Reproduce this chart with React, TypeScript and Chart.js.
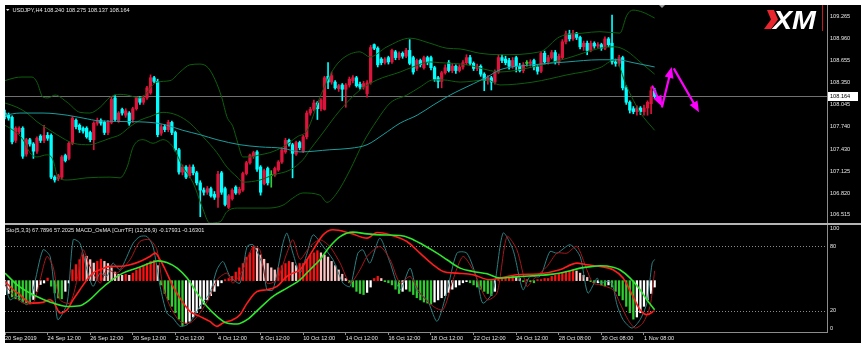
import React, { useEffect, useRef } from "react";
import { Chart, registerables } from "chart.js";

Chart.register(...registerables);

// ---------------- data ----------------
const symbolTitle = "USDJPY,H4";
const oscTitle = "Sto(5,3,3) 67.7896 57.2025 MACD_OsMA [CurrTF] (12,26,9) -0.17931 -0.16301";

const opens = [
  107.93,107.90,107.87,107.55,107.67,107.72,107.36,107.56,107.50,107.40,
  107.61,107.55,107.62,107.62,107.04,107.02,107.04,107.34,107.30,107.51,
  107.83,107.76,107.72,107.72,107.66,107.56,107.79,107.83,107.80,107.66,
  107.80,108.14,107.82,107.98,107.90,107.93,107.84,107.99,108.14,108.08,
  108.14,108.21,108.42,108.37,107.65,107.74,107.70,107.80,107.66,107.42,
  107.11,107.18,107.06,107.18,107.10,106.96,106.86,106.83,106.88,106.80,
  106.76,107.10,106.88,106.62,106.74,106.90,106.82,106.86,107.09,107.24,
  107.33,107.39,107.18,106.95,107.16,107.06,107.07,107.14,107.25,107.39,
  107.55,107.49,107.36,107.52,107.40,107.60,107.93,107.98,108.07,107.99,
  107.98,108.44,108.36,108.36,108.27,108.32,108.26,108.32,108.38,108.42,
  108.33,108.29,108.20,108.35,108.88,108.83,108.68,108.63,108.70,108.64,
  108.78,108.70,108.76,108.72,108.80,108.70,108.55,108.66,108.56,108.70,
  108.70,108.56,108.42,108.37,108.49,108.63,108.52,108.58,108.52,108.57,
  108.63,108.70,108.62,108.55,108.58,108.47,108.38,108.42,108.36,108.50,
  108.70,108.68,108.66,108.58,108.70,108.58,108.52,108.62,108.62,108.66,
  108.57,108.51,108.76,108.64,108.70,108.77,108.64,108.70,108.92,109.03,
  108.96,109.04,108.98,108.85,108.90,108.80,108.90,108.86,108.88,108.83,
  108.96,108.90,108.64,108.62,108.70,108.28,108.08,107.99,107.95,108.00,
  107.95,108.00,108.06,108.24,
];
const highs = [
  107.97,107.93,107.89,107.74,107.74,107.74,107.58,107.58,107.52,107.60,
  107.63,107.76,107.66,107.64,107.06,107.08,107.34,107.36,107.53,107.88,
  107.85,107.78,107.74,107.74,107.68,107.81,107.86,107.85,107.82,107.83,
  108.15,108.18,107.95,108.00,107.99,107.95,108.01,108.16,108.16,108.17,
  108.30,108.46,108.44,108.40,107.77,107.77,107.83,107.82,107.68,107.44,
  107.21,107.20,107.21,107.21,107.12,106.99,106.89,106.91,106.90,106.84,
  107.12,107.12,106.90,106.80,106.88,106.92,106.90,107.11,107.26,107.36,
  107.40,107.41,107.20,107.15,107.18,107.13,107.18,107.27,107.44,107.58,
  107.57,107.51,107.54,107.54,107.62,107.96,108.01,108.11,108.09,108.13,
  108.44,108.63,108.50,108.38,108.33,108.34,108.34,108.43,108.45,108.44,
  108.36,108.37,108.38,108.87,108.89,108.85,108.70,108.70,108.72,108.82,
  108.80,108.78,108.78,108.83,108.95,108.72,108.68,108.68,108.72,108.72,
  108.72,108.58,108.44,108.51,108.60,108.66,108.62,108.60,108.60,108.66,
  108.74,108.73,108.64,108.61,108.60,108.49,108.45,108.44,108.53,108.74,
  108.74,108.72,108.69,108.70,108.72,108.62,108.63,108.66,108.67,108.68,
  108.60,108.78,108.79,108.73,108.80,108.80,108.75,108.95,109.07,109.08,
  109.08,109.05,109.00,108.93,108.93,108.93,108.92,108.91,108.90,108.99,
  108.98,109.29,108.68,108.73,108.72,108.31,108.10,108.02,108.03,108.02,
  108.04,108.10,108.29,108.275,
];
const lows = [
  107.85,107.83,107.50,107.52,107.64,107.30,107.33,107.47,107.30,107.37,
  107.52,107.52,107.55,107.02,106.97,106.99,107.01,107.25,107.28,107.49,
  107.71,107.66,107.65,107.58,107.53,107.42,107.76,107.76,107.63,107.63,
  107.78,107.82,107.80,107.90,107.87,107.76,107.80,107.97,108.05,108.05,
  108.12,108.19,108.35,107.60,107.62,107.67,107.67,107.63,107.40,107.08,
  107.07,107.02,107.03,107.07,106.93,106.49,106.79,106.80,106.76,106.73,
  106.62,106.80,106.64,106.60,106.72,106.80,106.80,106.84,107.07,107.22,
  107.30,107.12,106.79,106.93,106.93,106.90,107.05,107.12,107.23,107.37,
  107.47,107.03,107.34,107.42,107.38,107.57,107.90,107.96,107.84,107.96,
  107.97,108.27,108.33,108.26,108.23,108.10,108.01,108.29,108.35,108.29,
  108.26,108.26,108.15,108.33,108.81,108.57,108.60,108.61,108.61,108.62,
  108.67,108.67,108.69,108.70,108.60,108.47,108.52,108.57,108.54,108.60,
  108.53,108.37,108.28,108.28,108.47,108.50,108.49,108.48,108.50,108.54,
  108.60,108.59,108.52,108.52,108.44,108.24,108.33,108.25,108.33,108.48,
  108.63,108.60,108.54,108.55,108.50,108.50,108.49,108.58,108.58,108.53,
  108.47,108.49,108.61,108.61,108.68,108.61,108.60,108.68,108.89,108.93,
  108.94,108.95,108.82,108.80,108.74,108.78,108.83,108.83,108.80,108.81,
  108.85,108.61,108.58,108.58,108.25,108.05,107.93,107.92,107.90,107.91,
  107.90,107.90,107.92,108.137,
];
const closes = [
  107.88,107.86,107.53,107.72,107.72,107.33,107.56,107.50,107.40,107.58,
  107.55,107.62,107.58,107.04,107.00,107.06,107.32,107.27,107.51,107.86,
  107.74,107.70,107.68,107.60,107.56,107.79,107.83,107.79,107.66,107.80,
  108.12,107.84,107.93,107.93,107.96,107.79,107.99,108.14,108.08,108.14,
  108.28,108.42,108.37,107.63,107.74,107.70,107.80,107.66,107.42,107.11,
  107.18,107.04,107.18,107.10,106.96,106.86,106.83,106.88,106.78,106.76,
  107.08,106.83,106.66,106.78,106.86,106.82,106.87,107.09,107.24,107.34,
  107.38,107.15,106.83,107.13,106.96,107.06,107.16,107.25,107.42,107.55,
  107.50,107.37,107.52,107.45,107.60,107.93,107.98,108.07,107.99,108.11,
  108.42,108.36,108.45,108.28,108.31,108.26,108.32,108.40,108.42,108.31,
  108.29,108.34,108.35,108.84,108.83,108.60,108.63,108.68,108.64,108.80,
  108.70,108.76,108.72,108.80,108.62,108.50,108.66,108.60,108.70,108.63,
  108.56,108.40,108.37,108.49,108.56,108.52,108.58,108.52,108.57,108.63,
  108.70,108.62,108.55,108.58,108.47,108.38,108.42,108.36,108.50,108.70,
  108.66,108.63,108.58,108.66,108.58,108.52,108.60,108.62,108.64,108.57,
  108.51,108.76,108.64,108.70,108.77,108.64,108.72,108.92,109.03,108.96,
  109.04,108.98,108.85,108.90,108.80,108.90,108.86,108.88,108.83,108.96,
  108.88,108.64,108.62,108.70,108.28,108.08,107.97,107.95,108.00,107.95,
  108.00,108.08,108.24,108.164,
];

const priceTicks = [109.265, 108.96, 108.655, 108.35, 108.045, 107.74, 107.43, 107.125, 106.82, 106.515];

// [bar index, price]
const bbUpper: [number, number][] = [
  [0,108.38],[2.8,108.42],[4.8,108.43],[7.6,108.43],[9,108.36],[10.7,108.15],[12.1,108.14],[14.1,108.18],
  [17.5,108.08],[21.1,107.94],[23.9,107.93],[26.8,108.01],[29.6,108.15],[32.4,108.19],[34.4,108.18],[38,108.14],
  [42.8,108.36],[46.5,108.38],[49.3,108.50],[52.1,108.60],[54.9,108.61],[57.2,108.56],[59.2,108.39],[61.1,108.14],
  [62.5,107.88],[64.2,107.74],[65.6,107.51],[67,107.32],[69,107.32],[71.8,107.35],[74.6,107.38],[78.3,107.46],
  [82.3,107.60],[85.1,107.69],[88.7,108.15],[92.4,108.53],[95.2,108.69],[100,108.78],[102.8,108.71],[107.6,108.85],
  [114.1,108.97],[119.7,108.90],[124.5,108.83],[128.2,108.82],[133.8,108.76],[139.4,108.74],[150.7,108.78],
  [156.3,108.99],[162.8,109.04],[167.6,109.06],[173.2,109.04],[175.2,109.29],[176.9,109.36],[179.7,109.33],[183,109.25],
];
const bbMiddle: [number, number][] = [
  [0,108.07],[3.4,108.01],[6.2,107.93],[9,107.81],[12.7,107.69],[16.3,107.58],[19.2,107.51],[23.9,107.49],
  [26.8,107.53],[29.6,107.58],[32.4,107.63],[35.2,107.74],[38,107.83],[40.8,107.88],[44.5,107.94],[48.5,107.90],
  [52.1,107.79],[55.8,107.60],[59.7,107.38],[62.5,107.18],[65.4,107.04],[67,106.97],[71.8,107.00],[75.5,107.07],
  [80.3,107.14],[83.9,107.28],[85.9,107.42],[88.7,107.60],[94.4,107.97],[100,108.25],[104.8,108.39],[111.3,108.50],
  [114.9,108.57],[119.7,108.64],[122.5,108.63],[130.1,108.60],[135.8,108.53],[139.4,108.50],[148.7,108.57],
  [158.3,108.69],[167.6,108.83],[171.8,108.85],[175.2,108.79],[178.9,108.64],[183,108.47],
];
const bbLower: [number, number][] = [
  [0,107.76],[2.3,107.69],[5.1,107.56],[7,107.38],[9,107.32],[11.8,107.35],[13.5,107.28],[14.9,107.04],
  [17.5,107.00],[23.1,107.03],[29.6,107.04],[32.4,107.03],[34.4,107.18],[36.1,107.46],[38.9,107.56],[41.7,107.51],
  [44.5,107.56],[47.3,107.46],[50.1,107.18],[53,106.96],[55.5,106.63],[57.7,106.40],[60.6,106.42],[62.5,106.56],
  [65.4,106.61],[73.8,106.61],[78.3,106.65],[81.1,106.75],[83.9,106.82],[88.7,106.79],[90.7,106.69],[93.5,106.82],
  [97.2,107.14],[100.8,107.51],[104.8,107.83],[108.5,108.07],[113.2,108.18],[116.9,108.29],[120.6,108.39],
  [123.4,108.39],[128.2,108.36],[135.8,108.39],[139.4,108.32],[148.7,108.36],[158.3,108.46],[167.6,108.56],
  [171.8,108.67],[175.2,108.29],[178.9,107.94],[183,107.69],
];
const maSlow: [number, number][] = [
  [0,107.90],[4.2,107.93],[10.7,107.93],[17.5,107.90],[22,107.86],[26.8,107.82],[36.1,107.81],[42.8,107.79],
  [45.6,107.76],[50.1,107.69],[54.9,107.63],[59.7,107.56],[66.2,107.49],[71.8,107.46],[78.3,107.44],[83.1,107.39],
  [91.5,107.42],[97.2,107.44],[102,107.49],[106.5,107.63],[111.3,107.79],[116.1,107.90],[120.6,108.04],
  [125.4,108.18],[128.2,108.25],[135.8,108.43],[139.4,108.53],[148.7,108.60],[158.3,108.64],[167.6,108.67],
  [172.4,108.67],[176.9,108.63],[183,108.57],
];

const osmaHist = [
  -0.065,-0.060,-0.076,-0.085,-0.091,-0.100,-0.104,-0.107,-0.088,-0.050,
  -0.018,-0.011,0.012,-0.026,-0.058,-0.081,-0.085,-0.050,-0.011,0.051,
  0.075,0.098,0.121,0.114,0.098,0.082,0.090,0.100,0.090,0.080,
  0.060,0.040,0.030,0.025,0.030,0.025,0.035,0.050,0.060,0.070,
  0.080,0.090,0.095,0.070,-0.020,-0.060,-0.090,-0.120,-0.150,-0.180,
  -0.210,-0.200,-0.190,-0.170,-0.150,-0.130,-0.110,-0.090,-0.070,-0.050,
  -0.025,-0.010,0.005,0.010,0.020,0.040,0.060,0.080,0.110,0.130,
  0.160,0.150,0.120,0.100,0.080,0.060,0.050,0.060,0.070,0.080,
  0.090,0.085,0.070,0.080,0.080,0.100,0.120,0.130,0.140,0.130,
  0.120,0.110,0.090,0.070,0.050,0.030,0.010,-0.010,-0.030,-0.050,
  -0.060,-0.065,-0.055,-0.030,0.010,0.020,0.010,-0.005,-0.010,-0.020,
  -0.040,-0.060,-0.050,-0.040,-0.050,-0.065,-0.080,-0.090,-0.100,-0.105,
  -0.110,-0.100,-0.090,-0.080,-0.070,-0.055,-0.040,-0.030,-0.020,-0.010,
  -0.005,-0.010,-0.020,-0.030,-0.040,-0.050,-0.060,-0.070,-0.050,0.010,
  0.010,0.010,0.015,0.020,0.015,0.010,-0.005,0.005,-0.005,-0.010,
  0.005,0.005,0.010,0.010,0.020,0.025,0.030,0.035,0.040,0.045,
  0.050,0.045,0.035,0.025,0.015,-0.005,-0.010,-0.010,-0.020,-0.025,
  -0.020,-0.030,-0.050,-0.070,-0.090,-0.120,-0.150,-0.180,-0.170,-0.150,
  -0.120,-0.090,-0.060,-0.030,
];

// [bar index, 0..100 oscillator value]
const stochMain: [number, number][] = [
  [0,47.3],[1.4,30.2],[3.4,33.3],[6.2,25.5],[7.9,39.5],[10.7,76.8],[12.7,70.6],[14.1,31.7],[14.9,11.5],
  [17.5,27.0],[19.2,86.2],[21.1,83.0],[23.1,58.2],[24.8,42.6],[26.8,55.0],[28.7,51.9],[30.4,64.4],[32.4,58.2],
  [36.1,83.0],[38,89.2],[40,89.2],[41.7,79.9],[43.7,42.6],[45.6,17.7],[47.3,13.1],[49.3,5.3],[51.3,6.8],
  [53,13.1],[54.9,24.0],[57.7,36.4],[59.7,58.2],[61.4,65.9],[63.4,51.9],[66.2,45.7],[68.2,79.9],[69.9,81.5],
  [72.7,61.3],[73.8,39.5],[75.5,39.5],[78.3,83.0],[79.4,92.4],[81.1,73.7],[83.1,55.0],[85.1,73.7],[86.8,90.8],
  [89.6,79.9],[92.4,67.5],[95.2,45.7],[97.2,42.6],[99.4,73.7],[100.8,76.8],[102.8,64.4],[105.6,87.7],[108.5,64.4],
  [111.3,39.5],[114.1,59.7],[116.1,38.0],[118.9,30.2],[121.7,10.0],[124.5,38.0],[127.3,73.7],[130.1,73.7],
  [133,48.8],[134.6,27.0],[137.5,38.0],[140.3,92.4],[143.1,76.8],[145.9,39.5],[147.9,51.9],[150.7,51.9],
  [153.5,75.2],[155.5,73.7],[159.2,81.5],[162,70.6],[164.2,36.4],[166.8,50.4],[167.6,45.7],[169.6,47.3],
  [171,45.7],[172.4,25.5],[174.1,11.5],[176.6,3.7],[178.9,11.5],[180.8,27.0],[182.3,64.4],[183,67.8],
];
const stochSignal: [number, number][] = [
  [0,44.1],[2.3,34.8],[5.1,27.0],[7.9,27.0],[9.9,48.8],[11.8,70.6],[13.5,61.3],[15.5,30.2],[18.3,27.0],
  [20.3,48.8],[22,76.8],[23.9,61.3],[26.8,45.7],[28.7,58.2],[31.5,55.0],[35.2,67.5],[38,84.6],[40.8,86.2],
  [42.8,76.8],[44.5,42.6],[46.5,24.0],[49.3,9.9],[52.1,8.4],[54.9,17.7],[57.7,33.3],[59.7,48.8],[62.5,55.0],
  [64.2,45.7],[67,58.2],[69.9,80.0],[71.8,76.8],[73.8,45.7],[76.6,48.8],[79.4,73.7],[81.1,86.2],[83.1,68.0],
  [85.9,79.9],[88.7,86.2],[91.5,79.9],[94.4,64.4],[97.2,45.7],[100,58.2],[102,70.6],[105.6,79.9],[108.5,67.5],
  [111.3,45.7],[114.1,51.9],[116.9,36.4],[120.6,24.0],[123.4,20.8],[126.2,48.8],[129,70.6],[131.8,58.2],
  [135.8,30.2],[138.6,36.4],[141.4,89.2],[144.2,76.8],[147,42.6],[148.7,48.8],[152.7,61.3],[155.5,73.7],
  [158.3,73.7],[161.1,80.0],[163.9,58.2],[165.6,45.7],[167.6,44.1],[171.3,39.5],[173.2,27.0],[175.5,11.5],
  [177.5,3.7],[179.7,8.4],[181.7,24.0],[183,57.2],
];
const macdRed: [number, number][] = [
  [0,47.3],[2.3,39.5],[4.2,34.8],[6.2,28.6],[7.9,27.0],[10.7,27.7],[12.7,30.2],[14.1,25.5],[15.5,17.7],
  [17.5,20.8],[19.2,30.2],[21.1,39.5],[23.1,48.8],[24.8,55.0],[26.8,58.2],[29.6,61.3],[32.4,61.3],[35.2,62.8],
  [38,65.9],[40.8,70.6],[42.3,73.7],[43.7,67.5],[45.6,55.0],[47.3,42.6],[49.9,28.6],[52.1,19.3],[54.9,14.6],
  [57.7,9.9],[59.7,5.3],[61.4,8.4],[64.2,11.5],[66.2,16.2],[68.2,27.0],[71,37.9],[73.8,39.5],[76.6,42.6],
  [79.4,52.0],[81.1,55.0],[83.1,58.2],[86.8,76.8],[89.6,90.8],[92.4,95.5],[97.2,92.4],[102,87.7],[104.8,93.0],
  [108.5,90.8],[113.2,84.6],[116.9,73.7],[120.6,62.8],[123.4,56.6],[127.3,55.0],[131.8,53.5],[136.6,48.8],
  [139.4,50.4],[144.2,53.5],[150.7,54.4],[156.3,58.2],[161.1,64.4],[163.9,62.8],[167.6,61.3],[171.3,58.2],
  [174.1,50.4],[176.9,33.3],[178.9,20.8],[180.8,16.2],[183,20.0],
];
const macdGreen: [number, number][] = [
  [0,55.0],[3.4,44.1],[7,36.4],[9.9,31.7],[13.5,27.0],[17.5,23.9],[21.1,24.6],[23.9,30.2],[26.8,39.5],
  [29.6,47.3],[33.2,55.0],[37.2,59.7],[40.8,64.4],[43.1,66.5],[45.6,65.0],[48.5,59.7],[51.3,50.4],[54.1,36.4],
  [56.9,23.9],[59.7,14.6],[62.5,8.4],[65.4,7.5],[68.2,11.5],[71.8,22.4],[75.5,33.3],[79.4,41.0],[83.1,48.8],
  [85.9,58.2],[88.7,67.5],[91.5,79.9],[94.4,89.2],[98,93.3],[102,91.7],[105.6,90.8],[111.3,90.2],[114.1,87.7],
  [117.7,81.5],[121.7,73.7],[124.5,67.5],[128.2,59.7],[131.8,56.6],[135.8,54.4],[139.4,50.4],[143.1,51.3],
  [148.7,52.6],[154.4,54.1],[158.3,56.6],[162,59.7],[165.6,61.3],[167.6,61.9],[171.3,60.6],[173.2,58.2],
  [176.1,50.4],[178.9,39.5],[180.8,30.2],[183,20.8],
];

const oscTicks = [100, 80, 20, 0];
const oscLevels = [80, 20];

const dateBars = [0, 12, 24, 36, 48, 60, 72, 84, 96, 108, 120, 132, 144, 156, 168, 180];
const dateLabels = [
  "20 Sep 2019", "24 Sep 12:00", "26 Sep 12:00", "30 Sep 12:00", "2 Oct 12:00", "4 Oct 12:00",
  "8 Oct 12:00", "10 Oct 12:00", "14 Oct 12:00", "16 Oct 12:00", "18 Oct 12:00", "22 Oct 12:00",
  "24 Oct 12:00", "28 Oct 08:00", "30 Oct 08:00", "1 Nov 08:00",
];

// hand-drawn forecast arrows: [bar, price] start -> end
const forecastArrows: [number, number][][] = [
  [[182.4, 108.30], [185.1, 108.02]],
  [[185.1, 108.02], [187.8, 108.57]],
  [[188.5, 108.54], [195.5, 107.94]],
];

// ---------------- view ----------------
const X_MIN = 0;
const X_MAX = 231.55;
const P_MIN = 106.4028;
const P_MAX = 109.4306;
const H_MIN = -0.24;
const H_MAX = 0.26;

const FONT = '"Liberation Sans", Arial, sans-serif';
const TXT = "#e4e4e4";
const AXIS = "#8c8c8c";
const BULL = "#dc143c";
const BEAR = "#00ffff";
const DOJI = "#32cd32";

const candleColor = (i: number) =>
  closes[i] > opens[i] ? BULL : closes[i] < opens[i] ? BEAR : DOJI;

const histColor = (i: number) => {
  const v = osmaHist[i];
  const prev = i > 0 ? osmaHist[i - 1] : v;
  if (v >= 0) return v >= prev ? "#ff1010" : "#ffc4c4";
  return v < prev ? "#2fcf2f" : "#ffffff";
};

const pts = (a: [number, number][]) => a.map(([x, y]) => ({ x, y }));

const mainDecor = {
  id: "mainDecor",
  beforeDatasetsDraw(chart: any) {
    const { ctx, chartArea: a, scales } = chart;
    const y = Math.round(scales.y.getPixelForValue(closes[closes.length - 1])) + 0.5;
    ctx.save();
    ctx.strokeStyle = "#707070";
    ctx.lineWidth = 1;
    ctx.beginPath();
    ctx.moveTo(a.left, y);
    ctx.lineTo(a.right, y);
    ctx.stroke();
    ctx.restore();
  },
  afterDraw(chart: any) {
    const { ctx, chartArea: a, scales } = chart;
    const sx = scales.x;
    const sy = scales.y;
    ctx.save();
    // forecast arrows
    ctx.fillStyle = "#ff00ff";
    ctx.strokeStyle = "#ff00ff";
    ctx.lineCap = "round";
    for (const [[x1, p1], [x2, p2]] of forecastArrows) {
      const X1 = sx.getPixelForValue(x1), Y1 = sy.getPixelForValue(p1);
      const X2 = sx.getPixelForValue(x2), Y2 = sy.getPixelForValue(p2);
      const dx = X2 - X1, dy = Y2 - Y1;
      const len = Math.hypot(dx, dy);
      const ux = dx / len, uy = dy / len;
      const head = 11, hw = 4.5;
      const bx = X2 - ux * head, by = Y2 - uy * head;
      ctx.lineWidth = 2.2;
      ctx.beginPath();
      ctx.moveTo(X1, Y1);
      ctx.lineTo(bx, by);
      ctx.stroke();
      ctx.beginPath();
      ctx.moveTo(X2, Y2);
      ctx.lineTo(bx - uy * hw, by + ux * hw);
      ctx.lineTo(bx + uy * hw, by - ux * hw);
      ctx.closePath();
      ctx.fill();
    }
    // current price box
    const last = closes[closes.length - 1];
    const py = Math.round(sy.getPixelForValue(last));
    ctx.fillStyle = "#ffffff";
    ctx.fillRect(a.right + 1, py - 4, 30, 9);
    ctx.fillStyle = "#000000";
    ctx.font = `5.6px ${FONT}`;
    ctx.textAlign = "left";
    ctx.textBaseline = "middle";
    ctx.fillText(last.toFixed(3), a.right + 3, py + 0.5);
    // header
    const n = closes.length - 1;
    const head = `${symbolTitle} ${opens[n].toFixed(3)} ${highs[n].toFixed(3)} ${lows[n].toFixed(3)} ${closes[n].toFixed(3)}`;
    ctx.fillStyle = TXT;
    ctx.beginPath();
    ctx.moveTo(a.left + 1, a.top + 4);
    ctx.lineTo(a.left + 4.5, a.top + 4);
    ctx.lineTo(a.left + 2.75, a.top + 6);
    ctx.closePath();
    ctx.fill();
    ctx.fillText(head, a.left + 7.5, a.top + 5.2);
    // chart shift marker
    ctx.fillStyle = "#9a9a9a";
    ctx.beginPath();
    ctx.moveTo(a.left + 654, a.top);
    ctx.lineTo(a.left + 660, a.top);
    ctx.lineTo(a.left + 657, a.top + 3);
    ctx.closePath();
    ctx.fill();
    // XM logo
    const lx = a.right - 60, ly = a.top + 5;
    ctx.fillStyle = "#e8262d";
    ctx.beginPath();
    ctx.moveTo(lx, ly);
    ctx.lineTo(lx + 7, ly);
    ctx.lineTo(lx + 11, ly + 9.5);
    ctx.lineTo(lx + 4, ly + 19);
    ctx.lineTo(lx - 3, ly + 19);
    ctx.lineTo(lx + 4, ly + 9.5);
    ctx.closePath();
    ctx.fill();
    ctx.fillStyle = "#ffffff";
    ctx.font = `italic bold 26px ${FONT}`;
    ctx.textBaseline = "alphabetic";
    ctx.save();
    ctx.translate(lx + 6, ly + 19);
    ctx.scale(1.1, 1);
    ctx.fillText("XM", 0, 0);
    ctx.restore();
    ctx.fillStyle = "#c41a1a";
    ctx.fillRect(a.right - 5, a.top, 1, 26);
    ctx.restore();
  },
};

const oscDecor = {
  id: "oscDecor",
  beforeDatasetsDraw(chart: any) {
    const { ctx, chartArea: a, scales } = chart;
    ctx.save();
    ctx.strokeStyle = "#8a8a8a";
    ctx.lineWidth = 1;
    ctx.setLineDash([1, 2]);
    for (const v of oscLevels) {
      const y = Math.round(scales.y.getPixelForValue(v)) + 0.5;
      ctx.beginPath();
      ctx.moveTo(a.left, y);
      ctx.lineTo(a.right, y);
      ctx.stroke();
    }
    ctx.restore();
  },
  afterDraw(chart: any) {
    const { ctx, chartArea: a, scales } = chart;
    ctx.save();
    ctx.fillStyle = TXT;
    ctx.font = `5.6px ${FONT}`;
    ctx.textAlign = "left";
    ctx.textBaseline = "middle";
    for (const v of oscTicks) {
      let y = scales.y.getPixelForValue(v);
      y = Math.min(Math.max(y, a.top + 3.5), a.bottom - 3.5);
      ctx.fillText(String(v), a.right + 3, y);
    }
    ctx.fillText(oscTitle, a.left + 1, a.top + 5);
    ctx.restore();
  },
};

function buildMain(canvas: HTMLCanvasElement) {
  return new Chart(canvas, {
    type: "bar",
    data: {
      datasets: [
        { type: "line", data: pts(maSlow), borderColor: "#1b9d9d", borderWidth: 1, pointRadius: 0, cubicInterpolationMode: "monotone", order: 0 } as any,
        { type: "line", data: pts(bbUpper), borderColor: "#0d5e0d", borderWidth: 1, pointRadius: 0, cubicInterpolationMode: "monotone", order: 0 } as any,
        { type: "line", data: pts(bbMiddle), borderColor: "#0d5e0d", borderWidth: 1, pointRadius: 0, cubicInterpolationMode: "monotone", order: 0 } as any,
        { type: "line", data: pts(bbLower), borderColor: "#0d5e0d", borderWidth: 1, pointRadius: 0, cubicInterpolationMode: "monotone", order: 0 } as any,
        {
          type: "bar",
          data: opens.map((o, i) => ({ x: i, y: [o, closes[i]] })),
          backgroundColor: (c: any) => candleColor(c.dataIndex),
          barThickness: 2.6,
          minBarLength: 1,
          grouped: false,
          order: 1,
        } as any,
        {
          type: "bar",
          data: lows.map((l, i) => ({ x: i, y: [l, highs[i]] })),
          backgroundColor: (c: any) => candleColor(c.dataIndex),
          barThickness: 1,
          grouped: false,
          order: 2,
        } as any,
      ],
    },
    options: {
      animation: false,
      responsive: false,
      maintainAspectRatio: false,
      events: [],
      layout: { padding: 0 },
      plugins: { legend: { display: false }, tooltip: { enabled: false } },
      scales: {
        x: { type: "linear", min: X_MIN, max: X_MAX, offset: false, display: false, grid: { offset: false } },
        y: {
          position: "right",
          min: P_MIN,
          max: P_MAX,
          afterBuildTicks: (s: any) => { s.ticks = priceTicks.map((v) => ({ value: v })); },
          afterFit: (s: any) => { s.width = 34; s.paddingTop = 0; s.paddingBottom = 0; },
          grid: { display: false, drawTicks: false },
          border: { display: true, color: AXIS },
          ticks: {
            autoSkip: false,
            color: TXT,
            padding: 3,
            font: { family: FONT, size: 5.6 },
            callback: (v: any) => Number(v).toFixed(3),
          },
        },
      },
    } as any,
    plugins: [mainDecor],
  });
}

function buildOsc(canvas: HTMLCanvasElement) {
  return new Chart(canvas, {
    type: "bar",
    data: {
      datasets: [
        { type: "line", data: pts(macdGreen), yAxisID: "y", borderColor: "#2ee62e", borderWidth: 1.6, pointRadius: 0, cubicInterpolationMode: "monotone", order: 0 } as any,
        { type: "line", data: pts(macdRed), yAxisID: "y", borderColor: "#ff1c1c", borderWidth: 1.6, pointRadius: 0, cubicInterpolationMode: "monotone", order: 1 } as any,
        { type: "line", data: pts(stochSignal), yAxisID: "y", borderColor: "#a8161b", borderWidth: 1, pointRadius: 0, tension: 0.25, order: 2 } as any,
        { type: "line", data: pts(stochMain), yAxisID: "y", borderColor: "#2c7f80", borderWidth: 1, pointRadius: 0, tension: 0.25, order: 3 } as any,
        {
          type: "bar",
          data: osmaHist.map((h, i) => ({ x: i, y: h })),
          yAxisID: "yH",
          backgroundColor: (c: any) => histColor(c.dataIndex),
          barThickness: 1.6,
          grouped: false,
          order: 4,
        } as any,
      ],
    },
    options: {
      animation: false,
      responsive: false,
      maintainAspectRatio: false,
      events: [],
      layout: { padding: 0 },
      plugins: { legend: { display: false }, tooltip: { enabled: false } },
      scales: {
        x: {
          type: "linear",
          position: "bottom",
          min: X_MIN,
          max: X_MAX,
          offset: false,
          afterBuildTicks: (s: any) => { s.ticks = dateBars.map((v) => ({ value: v })); },
          afterFit: (s: any) => { s.height = 11; s.paddingLeft = 0; s.paddingRight = 0; },
          grid: { display: true, offset: false, drawOnChartArea: false, drawTicks: true, tickLength: 3, color: AXIS },
          border: { display: true, color: AXIS },
          ticks: {
            autoSkip: false,
            maxRotation: 0,
            minRotation: 0,
            align: "start",
            padding: 0,
            color: TXT,
            font: { family: FONT, size: 5.6 },
            callback: (_v: any, i: number) => dateLabels[i],
          },
        },
        y: {
          position: "right",
          min: 0,
          max: 100,
          afterFit: (s: any) => { s.width = 34; s.paddingTop = 0; s.paddingBottom = 0; },
          grid: { display: false, drawTicks: false },
          border: { display: true, color: AXIS },
          ticks: { display: false },
        },
        yH: { position: "left", min: H_MIN, max: H_MAX, display: false },
      },
    } as any,
    plugins: [oscDecor],
  });
}

export default function App() {
  const mainRef = useRef<HTMLCanvasElement>(null);
  const oscRef = useRef<HTMLCanvasElement>(null);
  useEffect(() => {
    const c1 = buildMain(mainRef.current!);
    const c2 = buildOsc(oscRef.current!);
    return () => {
      c1.destroy();
      c2.destroy();
    };
  }, []);
  const abs = (l: number, t: number, w: number, h: number): React.CSSProperties => ({
    position: "absolute", left: l, top: t, width: w, height: h,
  });
  return (
    <div style={{ ...abs(0, 0, 861, 351), background: "#ffffff", overflow: "hidden" }}>
      <div style={{ ...abs(5, 5, 856, 338), background: "#000000" }} />
      <canvas ref={mainRef} width={856} height={218} style={abs(5, 5, 856, 218)} />
      <div style={{ ...abs(5, 223, 856, 2), background: "#b4b4b4" }} />
      <canvas ref={oscRef} width={856} height={118} style={abs(5, 225, 856, 118)} />
    </div>
  );
}
